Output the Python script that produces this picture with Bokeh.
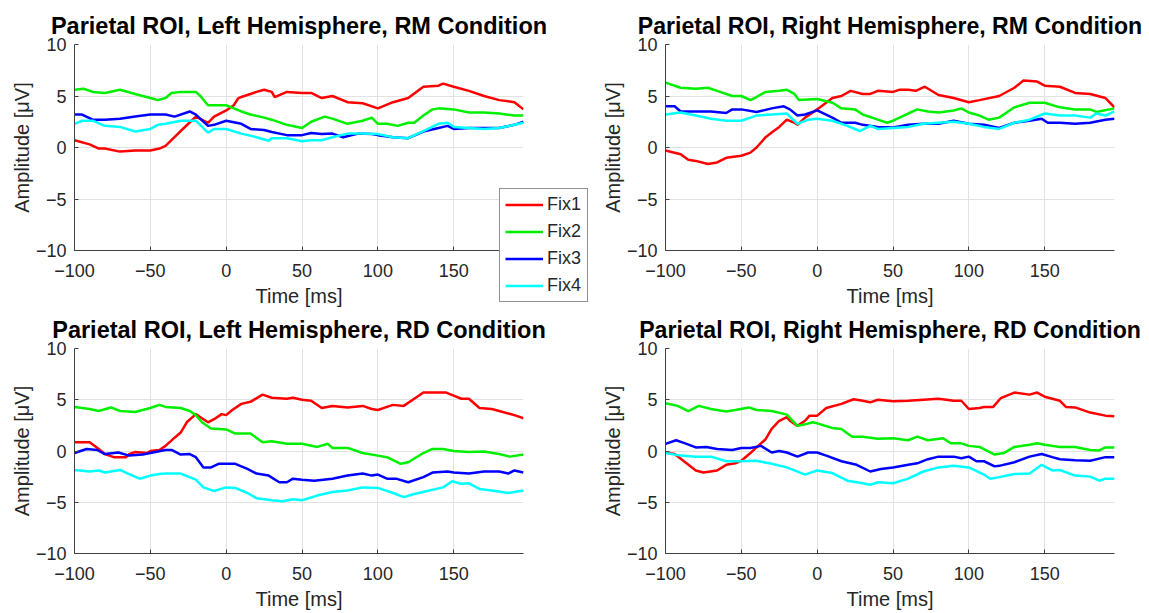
from bokeh.plotting import figure
from bokeh.models import Range1d, FixedTicker, Legend, LegendItem, GridBox
from bokeh.embed import file_html
from bokeh.resources import INLINE

FONT = "Liberation Sans"
SERIES = ["Fix1", "Fix2", "Fix3", "Fix4"]
COLORS = ["#ff0000", "#00f000", "#0000ff", "#00ffff"]
X_TICKS = [-100, -50, 0, 50, 100, 150]
Y_TICKS = [-10, -5, 0, 5, 10]
TITLES = ["Parietal ROI, Left Hemisphere, RM Condition",
          "Parietal ROI, Right Hemisphere, RM Condition",
          "Parietal ROI, Left Hemisphere, RD Condition",
          "Parietal ROI, Right Hemisphere, RD Condition"]

# ---- Left hemisphere, RM ----
LH_RM_FIX1_T = [-100,-90,-84,-80,-70,-60,-50,-44,-40,-30,-20,-12,-8,0,5,8,10,20,25,30,32,40,50,56,63,70,80,90,100,110,120,130,140,143,150,160,170,180,190,196]
LH_RM_FIX1_V = [0.7,0.3,-0.1,-0.1,-0.4,-0.3,-0.3,-0.1,0.15,1.6,3.0,2.4,3.0,3.6,4.1,4.8,4.9,5.4,5.6,5.4,4.9,5.4,5.3,5.3,4.8,5.0,4.4,4.3,3.8,4.4,4.8,5.9,6.0,6.2,5.9,5.5,5.0,4.6,4.4,3.7]
LH_RM_FIX2_T = [-100,-94,-88,-80,-70,-60,-50,-45,-40,-36,-30,-20,-17,-12,0,5,10,16,25,30,40,50,56,65,70,80,90,96,100,106,113,120,124,130,136,140,150,160,170,180,190,196]
LH_RM_FIX2_V = [5.6,5.7,5.4,5.3,5.6,5.2,4.8,4.6,4.8,5.3,5.4,5.4,5.0,4.1,4.1,3.8,3.5,3.2,2.9,2.7,2.2,1.9,2.5,3.0,2.8,2.3,2.6,2.9,2.3,2.3,2.1,2.4,2.4,3.1,3.7,3.8,3.7,3.4,3.4,3.3,3.1,3.1]
LH_RM_FIX3_T = [-100,-95,-88,-80,-70,-60,-50,-40,-34,-24,-20,-12,-8,0,10,16,25,30,40,50,56,63,70,77,87,96,100,110,120,130,140,146,150,160,170,180,190,196]
LH_RM_FIX3_V = [3.2,3.2,2.7,2.7,2.8,3.0,3.2,3.2,3.0,3.5,3.2,2.1,2.2,2.6,2.3,1.8,1.7,1.5,1.2,1.2,1.4,1.3,1.35,1.0,1.35,1.3,1.2,1.0,0.9,1.55,1.9,2.1,1.8,1.9,1.9,1.9,2.2,2.5]
LH_RM_FIX4_T = [-100,-95,-88,-80,-70,-60,-50,-45,-40,-30,-20,-12,-8,0,10,20,28,30,40,50,56,63,70,80,90,100,110,120,130,140,146,150,160,170,180,190,196]
LH_RM_FIX4_V = [2.3,2.6,2.6,2.1,2.0,1.55,1.8,2.2,2.3,2.6,2.6,1.45,1.8,1.8,1.35,1.0,0.65,0.9,0.9,0.6,0.7,0.7,1.0,1.35,1.35,1.3,1.0,0.9,1.6,2.3,2.4,2.0,1.9,1.8,1.9,2.2,2.4]

# ---- Right hemisphere, RM ----
RH_RM_FIX1_T = [-100,-90,-85,-80,-72,-66,-60,-50,-44,-40,-34,-30,-25,-20,-15,-13,-8,0,10,16,22,30,35,40,50,54,60,65,71,80,90,100,107,120,130,136,145,150,160,170,180,190,196]
RH_RM_FIX1_V = [-0.3,-0.65,-1.2,-1.3,-1.6,-1.45,-1.0,-0.8,-0.5,0.0,1.0,1.45,2.0,2.7,2.4,2.2,2.9,3.7,4.8,5.0,5.5,5.2,5.2,5.5,5.4,5.6,5.6,5.5,5.9,5.1,4.8,4.4,4.6,5.0,5.8,6.5,6.4,6.0,5.9,5.3,5.2,4.8,3.9]
RH_RM_FIX2_T = [-100,-90,-80,-72,-66,-56,-50,-44,-40,-34,-25,-20,-15,-12,0,10,16,25,30,40,46,50,60,66,73,80,90,95,100,107,113,120,130,140,150,160,170,180,184,196]
RH_RM_FIX2_V = [6.3,5.8,5.7,5.8,5.5,5.0,5.0,4.6,4.9,5.4,5.5,5.6,5.2,4.6,4.7,4.35,3.8,3.7,3.2,2.7,2.4,2.6,3.3,3.7,3.5,3.4,3.6,3.8,3.4,3.1,2.7,2.9,3.9,4.35,4.35,3.9,3.7,3.7,3.45,3.8]
RH_RM_FIX3_T = [-100,-94,-90,-80,-70,-60,-56,-50,-40,-30,-22,-18,-13,-8,0,10,16,25,30,40,50,60,70,80,90,100,110,120,130,140,148,152,160,170,180,190,196]
RH_RM_FIX3_V = [4.0,4.0,3.5,3.5,3.5,3.35,3.7,3.7,3.45,3.8,4.0,3.7,3.1,3.2,3.6,2.9,2.4,2.4,2.2,2.0,1.95,2.2,2.3,2.3,2.6,2.3,2.2,1.9,2.4,2.6,2.8,2.4,2.4,2.3,2.4,2.7,2.8]
RH_RM_FIX4_T = [-100,-90,-80,-70,-60,-50,-40,-30,-20,-13,-6,0,10,20,28,35,40,50,60,70,80,90,100,110,120,130,140,150,160,170,180,184,190,196]
RH_RM_FIX4_V = [3.2,3.4,3.1,2.8,2.6,2.6,3.1,3.2,3.3,2.3,2.7,2.8,2.6,2.1,1.6,2.1,1.8,1.9,2.0,2.3,2.4,2.5,2.3,2.0,1.8,2.4,2.7,3.3,3.1,3.1,2.9,3.3,3.1,3.5]

# ---- Left hemisphere, RD ----
LH_RD_FIX1_T = [-100,-90,-84,-80,-74,-66,-64,-60,-52,-50,-44,-40,-34,-30,-26,-20,-17,-12,-8,-3,0,4,10,16,24,30,40,44,50,56,63,70,80,90,96,100,105,110,117,124,130,136,145,150,155,160,167,175,180,190,196]
LH_RD_FIX1_V = [0.85,0.85,0.2,-0.3,-0.6,-0.6,-0.3,-0.1,-0.2,0.0,0.1,0.5,1.3,1.8,2.8,3.6,3.3,2.8,3.1,3.6,3.5,4.0,4.6,4.8,5.5,5.2,5.1,5.2,5.0,4.9,4.2,4.4,4.25,4.4,4.1,4.0,4.25,4.5,4.4,5.1,5.7,5.7,5.7,5.4,5.1,5.1,4.2,4.1,3.9,3.5,3.2]
LH_RD_FIX2_T = [-100,-90,-84,-76,-70,-60,-50,-44,-40,-30,-24,-20,-16,-10,0,6,16,24,30,40,50,60,67,70,80,90,100,106,115,120,130,136,143,150,160,170,180,187,196]
LH_RD_FIX2_V = [4.3,4.1,3.9,4.25,3.9,3.8,4.2,4.5,4.3,4.2,3.9,3.5,2.8,2.2,2.1,1.7,1.7,0.85,0.95,0.7,0.7,0.4,0.7,0.3,0.3,-0.2,-0.45,-0.6,-1.25,-1.1,-0.2,0.2,0.2,0.0,-0.1,-0.05,-0.3,-0.55,-0.35]
LH_RD_FIX3_T = [-100,-92,-85,-80,-71,-64,-55,-50,-40,-36,-30,-24,-20,-15,-10,-5,0,6,14,20,28,35,40,44,50,58,70,80,90,96,100,106,112,120,130,136,146,150,160,170,180,186,190,196]
LH_RD_FIX3_V = [-0.2,0.2,0.1,-0.3,-0.15,-0.45,-0.35,-0.2,0.1,0.1,-0.35,-0.3,-0.6,-1.6,-1.6,-1.25,-1.25,-1.25,-1.75,-2.2,-2.4,-3.05,-3.05,-2.7,-2.8,-2.9,-2.7,-2.4,-2.2,-2.4,-2.3,-2.7,-2.7,-3.05,-2.55,-2.1,-2.0,-2.1,-2.2,-2.0,-2.0,-2.2,-1.9,-2.1]
LH_RD_FIX4_T = [-100,-90,-84,-80,-70,-64,-57,-50,-44,-40,-30,-20,-15,-8,0,6,14,20,30,37,44,50,60,70,80,90,100,110,117,124,134,143,149,155,160,167,175,186,196]
LH_RD_FIX4_V = [-1.85,-2.0,-1.9,-2.1,-1.85,-2.25,-2.7,-2.4,-2.25,-2.2,-2.2,-2.8,-3.55,-3.9,-3.55,-3.6,-4.1,-4.6,-4.8,-4.9,-4.7,-4.8,-4.35,-4.0,-3.85,-3.55,-3.6,-4.1,-4.5,-4.2,-3.85,-3.55,-2.95,-3.2,-3.15,-3.7,-3.85,-4.1,-3.85]

# ---- Right hemisphere, RD ----
RH_RD_FIX1_T = [-100,-94,-87,-80,-75,-66,-60,-54,-50,-44,-40,-34,-30,-25,-20,-18,-13,-8,-5,0,6,16,24,30,35,40,50,60,70,80,90,95,100,107,110,116,121,130,140,145,150,160,164,170,180,190,196]
RH_RD_FIX1_V = [-0.15,-0.3,-1.1,-1.9,-2.1,-1.9,-1.35,-1.2,-0.95,-0.2,0.35,1.15,2.15,2.95,3.3,2.95,2.45,2.95,3.45,3.45,4.2,4.6,5.05,4.9,4.75,5.0,4.85,4.9,5.0,5.1,4.9,4.9,4.1,4.2,4.3,4.3,5.15,5.7,5.5,5.7,5.3,4.9,4.3,4.25,3.75,3.45,3.4]
RH_RD_FIX2_T = [-100,-92,-85,-78,-70,-60,-54,-45,-40,-30,-20,-13,-8,-3,0,10,16,23,30,40,50,60,66,73,83,88,95,100,107,117,123,130,140,145,150,160,170,180,186,190,196]
RH_RD_FIX2_V = [4.65,4.4,3.9,4.4,4.1,3.85,4.0,4.25,4.0,3.9,3.55,2.45,2.6,2.8,2.7,2.25,2.15,1.4,1.4,1.2,1.25,1.05,1.4,1.05,1.25,0.75,0.75,0.5,0.4,-0.35,-0.2,0.4,0.6,0.75,0.6,0.4,0.4,0.1,0.05,0.35,0.35]
RH_RD_FIX3_T = [-100,-93,-87,-80,-73,-66,-56,-50,-44,-37,-30,-25,-20,-13,-6,0,6,16,26,35,42,50,60,66,73,80,90,95,100,105,110,117,120,130,140,148,155,160,170,180,190,196]
RH_RD_FIX3_V = [0.7,1.05,0.75,0.35,0.4,0.2,0.1,0.3,0.3,0.5,-0.15,0.0,-0.15,-0.55,-0.15,-0.15,-0.45,-1.0,-1.35,-2.0,-1.75,-1.6,-1.35,-1.2,-0.8,-0.55,-0.55,-0.7,-0.55,-1.0,-1.0,-1.5,-1.45,-1.1,-0.55,-0.3,-0.6,-0.8,-0.9,-0.95,-0.6,-0.6]
RH_RD_FIX4_T = [-100,-90,-80,-70,-60,-50,-40,-30,-20,-8,0,10,20,30,35,40,50,60,70,80,90,100,110,114,120,130,140,148,155,160,170,180,186,190,196]
RH_RD_FIX4_V = [-0.2,-0.45,-0.55,-0.55,-1.0,-1.0,-0.95,-1.25,-1.6,-2.3,-1.9,-2.15,-2.9,-3.15,-3.3,-3.05,-3.15,-2.7,-2.0,-1.6,-1.45,-1.6,-2.3,-2.7,-2.55,-2.25,-2.2,-1.35,-1.9,-1.85,-2.4,-2.5,-2.9,-2.7,-2.7]

PANELS = [
    [(LH_RM_FIX1_T, LH_RM_FIX1_V), (LH_RM_FIX2_T, LH_RM_FIX2_V), (LH_RM_FIX3_T, LH_RM_FIX3_V), (LH_RM_FIX4_T, LH_RM_FIX4_V)],
    [(RH_RM_FIX1_T, RH_RM_FIX1_V), (RH_RM_FIX2_T, RH_RM_FIX2_V), (RH_RM_FIX3_T, RH_RM_FIX3_V), (RH_RM_FIX4_T, RH_RM_FIX4_V)],
    [(LH_RD_FIX1_T, LH_RD_FIX1_V), (LH_RD_FIX2_T, LH_RD_FIX2_V), (LH_RD_FIX3_T, LH_RD_FIX3_V), (LH_RD_FIX4_T, LH_RD_FIX4_V)],
    [(RH_RD_FIX1_T, RH_RD_FIX1_V), (RH_RD_FIX2_T, RH_RD_FIX2_V), (RH_RD_FIX3_T, RH_RD_FIX3_V), (RH_RD_FIX4_T, RH_RD_FIX4_V)],
]
TITLE_SIZES = ["23.5px", "23.1px", "23.5px", "23.1px"]

AXIS_COLOR = "#404040"
TEXT_COLOR = "#262626"


def make_panel(idx, width, height, bl, bt, br, bb):
    p = figure(width=width, height=height, output_backend="svg", toolbar_location=None,
               x_range=Range1d(-100, 196), y_range=Range1d(-10, 10),
               min_border_left=bl, min_border_top=bt, min_border_right=br, min_border_bottom=bb,
               background_fill_color="white", border_fill_color="white")
    p.outline_line_color = None
    p.title.text = TITLES[idx]
    p.title.align = "center"
    p.title.text_font = FONT
    p.title.text_font_size = TITLE_SIZES[idx]
    p.title.text_font_style = "bold"
    p.title.text_color = "black"
    p.title.standoff = 11

    p.xaxis.ticker = FixedTicker(ticks=X_TICKS)
    p.yaxis.ticker = FixedTicker(ticks=Y_TICKS)
    p.xaxis.axis_label = "Time [ms]"
    p.yaxis.axis_label = "Amplitude [μV]"
    for ax in (p.xaxis[0], p.yaxis[0]):
        ax.axis_label_text_font = FONT
        ax.axis_label_text_font_size = "20px"
        ax.axis_label_text_font_style = "normal"
        ax.axis_label_text_color = TEXT_COLOR
        ax.major_label_text_font = FONT
        ax.major_label_text_font_size = "18px"
        ax.major_label_text_color = TEXT_COLOR
        ax.axis_line_color = AXIS_COLOR
        ax.axis_line_width = 1
        ax.major_tick_line_color = AXIS_COLOR
        ax.major_tick_in = 4
        ax.major_tick_out = 0
        ax.minor_tick_line_color = None
    p.xaxis.major_label_standoff = 13
    p.xaxis.axis_label_standoff = 5
    p.yaxis.major_label_standoff = 8
    p.yaxis.axis_label_standoff = 0

    p.xgrid.grid_line_color = "#e2e2e2"
    p.ygrid.grid_line_color = "#e2e2e2"

    for (t, v), color in zip(PANELS[idx], COLORS):
        p.line(t, v, line_color=color, line_width=2.5)
    return p


def make_legend_box(width, height):
    # transparent overlay canvas that only carries the legend box (legend sits in a side panel)
    q = figure(width=width, height=height, output_backend="svg", toolbar_location=None, title=None,
               min_border=0, x_axis_type=None, y_axis_type=None,
               x_range=Range1d(1000, 1001), y_range=Range1d(1000, 1001),
               background_fill_alpha=0, border_fill_alpha=0)
    q.outline_line_color = None
    for g in q.grid:
        g.visible = False
    items = []
    for name, (t, v), color in zip(SERIES, PANELS[0], COLORS):
        r = q.line(t, v, line_color=color, line_width=2.5)   # out of view; feeds the legend swatch
        items.append(LegendItem(label=name, renderers=[r]))
    legend = Legend(items=items, location="top_left", margin=1, padding=5, spacing=6,
                    glyph_width=38, glyph_height=21, label_height=21, label_width=35, label_standoff=4,
                    label_text_font=FONT, label_text_font_size="18px", label_text_color=TEXT_COLOR,
                    border_line_color="#262626", border_line_width=1,
                    background_fill_color="white", background_fill_alpha=1.0)
    q.add_layout(legend, "left")
    return q


p1 = make_panel(0, 598, 309, 74, 44, 75, 59)
p2 = make_panel(1, 551, 309, 67, 44, 35, 59)
p3 = make_panel(2, 598, 304, 74, 39, 75, 60)
p4 = make_panel(3, 551, 304, 67, 39, 35, 60)
pleg = make_legend_box(100, 122)

grid = GridBox(children=[(p1, 0, 0, 2, 2), (p2, 0, 2, 2, 1), (p3, 2, 0, 1, 2), (p4, 2, 2, 1, 1),
                         (pleg, 1, 1, 1, 1)],
               rows=["187px", "122px", "304px"], cols=["498px", "100px", "551px"], spacing=0)
open("out.html", "w").write(file_html(grid, INLINE))
